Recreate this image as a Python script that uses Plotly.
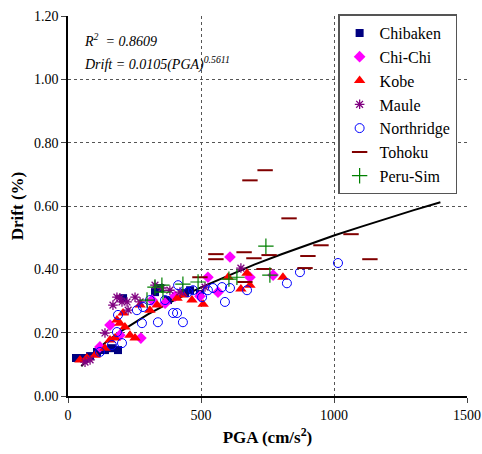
import plotly.graph_objects as go

# ---- data ----
chibaken_pga = [30, 45, 60, 83, 109, 139, 165, 188, 207, 327, 346, 376, 440, 459, 496]
chibaken_drift = [0.12, 0.12, 0.12, 0.126, 0.139, 0.145, 0.151, 0.145, 0.309, 0.328, 0.341, 0.303, 0.325, 0.334, 0.322]

chichi_pga = [120, 158, 195, 274, 316, 365, 402, 496, 526, 564, 609, 684, 771]
chichi_drift = [0.155, 0.224, 0.192, 0.183, 0.303, 0.293, 0.315, 0.315, 0.375, 0.328, 0.439, 0.375, 0.382]

kobe_pga = [45, 71, 102, 139, 158, 177, 195, 214, 207, 184, 233, 252, 271, 308, 335, 410, 432, 466, 508, 602, 650, 673, 684, 808]
kobe_drift = [0.114, 0.12, 0.129, 0.151, 0.177, 0.183, 0.23, 0.218, 0.262, 0.24, 0.192, 0.183, 0.287, 0.271, 0.287, 0.309, 0.319, 0.303, 0.29, 0.375, 0.338, 0.388, 0.35, 0.375]

maule_pga = [64, 83, 139, 169, 184, 195, 203, 222, 226, 252, 271, 327, 353, 383, 421, 515, 650]
maule_drift = [0.107, 0.114, 0.199, 0.287, 0.312, 0.309, 0.297, 0.297, 0.271, 0.312, 0.297, 0.35, 0.341, 0.334, 0.328, 0.344, 0.404]

northridge_pga = [120, 165, 184, 203, 188, 259, 282, 278, 308, 338, 365, 395, 410, 432, 414, 451, 470, 504, 526, 545, 579, 590, 609, 673, 823, 872, 1015]
northridge_drift = [0.139, 0.161, 0.202, 0.167, 0.256, 0.271, 0.281, 0.23, 0.303, 0.233, 0.303, 0.262, 0.262, 0.233, 0.35, 0.328, 0.334, 0.312, 0.334, 0.341, 0.344, 0.297, 0.341, 0.334, 0.356, 0.391, 0.42]

tohoku_pga = [496, 556, 556, 662, 699, 665, 737, 756, 684, 741, 831, 891, 902, 951, 1064, 1135]
tohoku_drift = [0.375, 0.448, 0.432, 0.454, 0.435, 0.36, 0.401, 0.445, 0.681, 0.713, 0.561, 0.404, 0.442, 0.476, 0.511, 0.432]

perusim_pga = [297, 327, 353, 357, 432, 489, 605, 635, 744, 759]
perusim_drift = [0.303, 0.344, 0.35, 0.328, 0.353, 0.36, 0.369, 0.375, 0.473, 0.382]

trend_pga = [50, 100, 150, 200, 300, 400, 500, 600, 700, 800, 900, 1000, 1100, 1200, 1300, 1400]
trend_drift = [0.094, 0.139, 0.175, 0.205, 0.258, 0.303, 0.343, 0.380, 0.415, 0.447, 0.477, 0.507, 0.534, 0.561, 0.587, 0.612]

x_ticks = [0, 500, 1000, 1500]
y_ticks = [0, 0.2, 0.4, 0.6, 0.8, 1.0, 1.2]
y_tick_labels = ["0.00", "0.20", "0.40", "0.60", "0.80", "1.00", "1.20"]

FONT = "Liberation Serif"

fig = go.Figure()

fig.add_trace(go.Scatter(x=trend_pga, y=trend_drift, mode="lines",
                         line=dict(color="black", width=2), showlegend=False,
                         hoverinfo="skip"))

series = [
    ("Chibaken", chibaken_pga, chibaken_drift, dict(symbol="square", color="#000080", size=8)),
    ("Chi-Chi", chichi_pga, chichi_drift, dict(symbol="diamond", color="#FF00FF", size=9)),
    ("Kobe", kobe_pga, kobe_drift, dict(symbol="triangle-up", color="#FF0000", size=10)),
    ("Maule", maule_pga, maule_drift, dict(symbol="asterisk-open", color="#800080", size=8,
                                             line=dict(color="#800080", width=1.3))),
    ("Northridge", northridge_pga, northridge_drift, dict(symbol="circle-open", color="#0000FF", size=9,
                                                          line=dict(color="#0000FF", width=1))),
    ("Tohoku", tohoku_pga, tohoku_drift, dict(symbol="line-ew", color="#800000", size=11,
                                              line=dict(color="#800000", width=2))),
    ("Peru-Sim", perusim_pga, perusim_drift, dict(symbol="cross-thin", color="#008000", size=11,
                                                  line=dict(color="#008000", width=1.2))),
]
for name, xs, ys, mk in series:
    fig.add_trace(go.Scatter(x=xs, y=ys, mode="markers", name=name, marker=mk))

fig.update_layout(
    width=482, height=454,
    margin=dict(l=68, r=15, t=16, b=58, autoexpand=False),
    paper_bgcolor="white", plot_bgcolor="white",
    font=dict(family=FONT, size=14, color="black"),
    legend=dict(x=0.677, y=1.004, xanchor="left", yanchor="top",
                bgcolor="white", bordercolor="#555555", borderwidth=1.5,
                font=dict(family=FONT, size=16), tracegroupgap=0, itemwidth=30),
    xaxis=dict(range=[0, 1500], tickvals=x_ticks, ticks="outside", ticklen=5,
               showline=True, linecolor="black", linewidth=1.5, mirror=False,
               showgrid=True, gridcolor="#555555", griddash="dot", gridwidth=1,
               zeroline=False, automargin=False, tickfont=dict(family=FONT, size=14),
               title=dict(text="<b>PGA (cm/s<sup>2</sup>)</b>", font=dict(family=FONT, size=17),
                          standoff=10)),
    yaxis=dict(range=[0, 1.2], tickvals=y_ticks, ticktext=y_tick_labels, ticks="outside", ticklen=5,
               showline=True, linecolor="black", linewidth=1.5, mirror=False,
               showgrid=True, gridcolor="#555555", griddash="dot", gridwidth=1,
               zeroline=False, automargin=False, tickfont=dict(family=FONT, size=14),
               title=dict(text="<b>Drift (%)</b>", font=dict(family=FONT, size=17),
                          standoff=6)),
    annotations=[
        dict(x=0.035, y=0.965, xref="paper", yref="paper", xanchor="left", yanchor="top",
             text="<i>R<sup>2</sup>  = 0.8609</i>", showarrow=False,
             font=dict(family=FONT, size=14)),
        dict(x=0.035, y=0.905, xref="paper", yref="paper", xanchor="left", yanchor="top",
             text="<i>Drift = 0.0105(PGA)<sup>0.5611</sup></i>", showarrow=False,
             font=dict(family=FONT, size=14)),
    ],
)

# remove the default page margin so the figure sits at the window's corner
fig.write_html("out.html", config={"displayModeBar": False},
               post_script="document.body.style.margin='0';")
